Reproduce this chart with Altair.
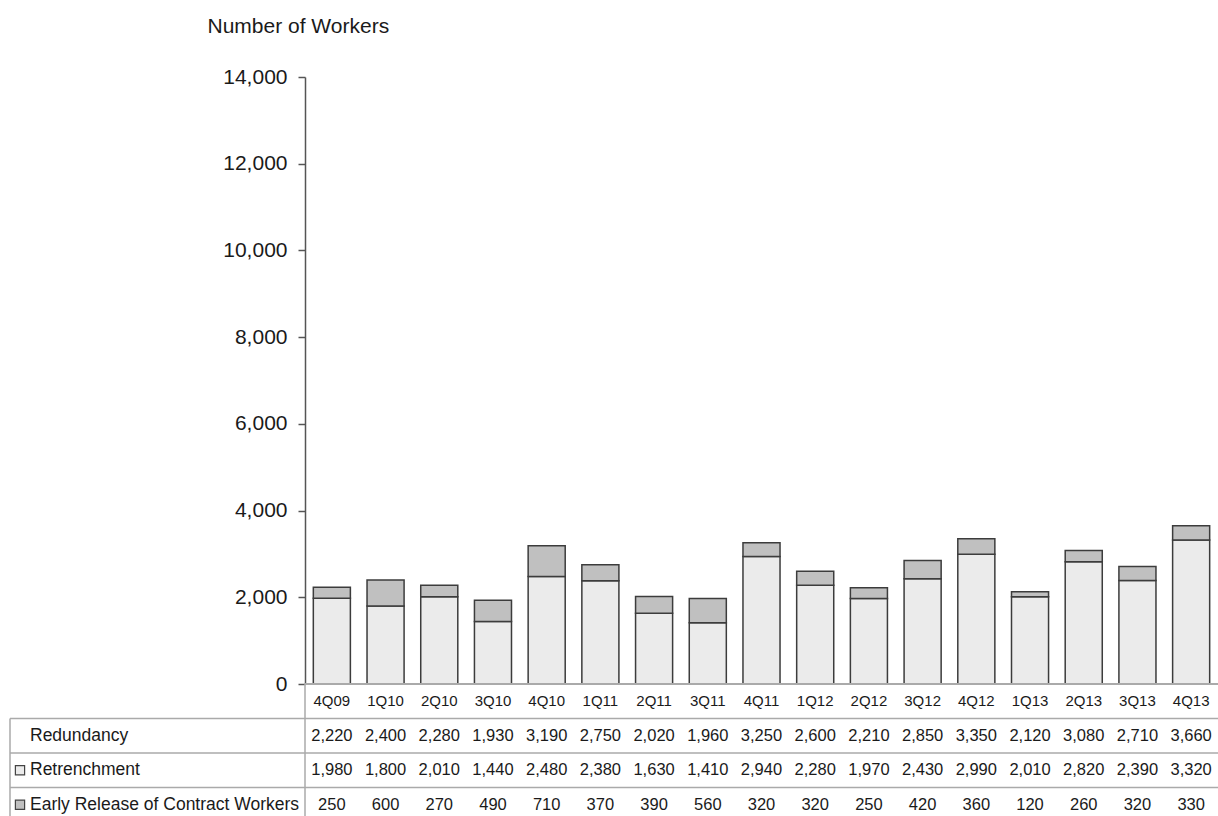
import altair as alt
import pandas as pd

# Quarterly figures (number of workers)
quarters = ["4Q09", "1Q10", "2Q10", "3Q10", "4Q10", "1Q11", "2Q11", "3Q11", "4Q11",
            "1Q12", "2Q12", "3Q12", "4Q12", "1Q13", "2Q13", "3Q13", "4Q13"]
redundancy = [2220, 2400, 2280, 1930, 3190, 2750, 2020, 1960, 3250,
              2600, 2210, 2850, 3350, 2120, 3080, 2710, 3660]
retrenchment = [1980, 1800, 2010, 1440, 2480, 2380, 1630, 1410, 2940,
                2280, 1970, 2430, 2990, 2010, 2820, 2390, 3320]
early_release = [250, 600, 270, 490, 710, 370, 390, 560, 320,
                 320, 250, 420, 360, 120, 260, 320, 330]

series_names = ["Retrenchment", "Early Release of Contract Workers"]
row_labels = ["Redundancy", "Retrenchment", "Early Release of Contract Workers"]
y_ticks = [0, 2000, 4000, 6000, 8000, 10000, 12000, 14000]

FONT = "Liberation Sans"
INK = "#1a1a1a"
TABLE_LINE = "#aaaaaa"

n = len(quarters)

# Stacked bar data: retrenchment at the bottom, early release on top
bars_df = pd.DataFrame({
    "quarter": quarters * 2,
    "series": [series_names[0]] * n + [series_names[1]] * n,
    "value": retrenchment + early_release,
    "stack_order": [0] * n + [1] * n,
})

# Data table under the chart: row 0 holds the quarter names, rows 1-3 the series
header_df = pd.DataFrame({"quarter": quarters, "pos": [0.5] * n})
value_rows = []
for r, series in enumerate([redundancy, retrenchment, early_release]):
    for q, v in zip(quarters, series):
        value_rows.append({"quarter": q, "pos": r + 1.5, "label": f"{v:,}"})
values_df = pd.DataFrame(value_rows)
labels_df = pd.DataFrame({"label": row_labels, "pos": [1.5, 2.5, 3.5]})
swatch_df = pd.DataFrame({"series": series_names, "pos": [2.5, 3.5]})
inner_lines_df = pd.DataFrame({"pos": [1, 2, 3]})
baseline_df = pd.DataFrame({"pos": [0]})
left_rule_df = pd.DataFrame({"top": [0], "bottom": [4]})
border_rule_df = pd.DataFrame({"top": [1], "bottom": [4]})

x_enc = alt.X("quarter:N", sort=quarters, axis=None,
              scale=alt.Scale(paddingInner=0.31, paddingOuter=0.155))
color_scale = alt.Scale(domain=series_names, range=["#ebebeb", "#c0c0c0"])
table_scale = alt.Scale(domain=[0, 4], range=[607, 745])

bars = alt.Chart(bars_df).mark_bar(stroke="#3c3c3c", strokeWidth=1.5).encode(
    x=x_enc,
    y=alt.Y(
        "value:Q", stack="zero",
        scale=alt.Scale(domain=[0, 14000]),
        axis=alt.Axis(
            values=y_ticks, format=",d", grid=False,
            title="Number of Workers", titleAngle=0, titleX=-98, titleY=-51,
            titleAlign="left", titleBaseline="middle", titleFontSize=21,
            titleFontWeight="normal", titleColor=INK,
            labelFontSize=21, labelColor=INK, labelPadding=11,
            tickSize=7, tickColor="#555555", tickWidth=1.5,
            domainColor="#555555", domainWidth=1.5,
        ),
    ),
    color=alt.Color("series:N", scale=color_scale, legend=None),
    order=alt.Order("stack_order:Q"),
)

inner_lines = alt.Chart(inner_lines_df).mark_rule(color=TABLE_LINE, strokeWidth=1.5).encode(
    x=alt.value(-295), x2=alt.value(913),
    y=alt.Y("pos:Q", scale=table_scale, axis=None),
)
baseline = alt.Chart(baseline_df).mark_rule(color=TABLE_LINE, strokeWidth=2).encode(
    x=alt.value(0), x2=alt.value(913),
    y=alt.Y("pos:Q", scale=table_scale, axis=None),
)
left_rule = alt.Chart(left_rule_df).mark_rule(color=TABLE_LINE, strokeWidth=1.5).encode(
    x=alt.value(0),
    y=alt.Y("top:Q", scale=table_scale, axis=None), y2="bottom:Q",
)
border_rule = alt.Chart(border_rule_df).mark_rule(color=TABLE_LINE, strokeWidth=1.5).encode(
    x=alt.value(-295),
    y=alt.Y("top:Q", scale=table_scale, axis=None), y2="bottom:Q",
)
header_text = alt.Chart(header_df).mark_text(
    fontSize=15, color=INK, baseline="middle"
).encode(
    x=x_enc,
    y=alt.Y("pos:Q", scale=table_scale, axis=None),
    text="quarter:N",
)
value_text = alt.Chart(values_df).mark_text(
    fontSize=16.5, color=INK, baseline="middle"
).encode(
    x=x_enc,
    y=alt.Y("pos:Q", scale=table_scale, axis=None),
    text="label:N",
)
row_label_text = alt.Chart(labels_df).mark_text(
    fontSize=17.5, color=INK, align="left", baseline="middle"
).encode(
    x=alt.value(-275),
    y=alt.Y("pos:Q", scale=table_scale, axis=None),
    text="label:N",
)
swatches = alt.Chart(swatch_df).mark_square(size=85, stroke="#444444", strokeWidth=1.2, opacity=1).encode(
    x=alt.value(-285),
    y=alt.Y("pos:Q", scale=table_scale, axis=None),
    color=alt.Color("series:N", scale=color_scale, legend=None),
)

table = alt.layer(inner_lines, baseline, left_rule, border_rule,
                  header_text, value_text, row_label_text, swatches)

chart = alt.layer(bars, table).resolve_scale(y="independent").properties(
    width=913, height=607,
    autosize=alt.AutoSizeParams(type="none"),
    padding={"left": 305, "top": 77, "right": 0, "bottom": 132},
    background="white",
).configure(font=FONT).configure_view(stroke=None)

chart.save("out.html", embed_options={"renderer": "svg", "actions": False})
